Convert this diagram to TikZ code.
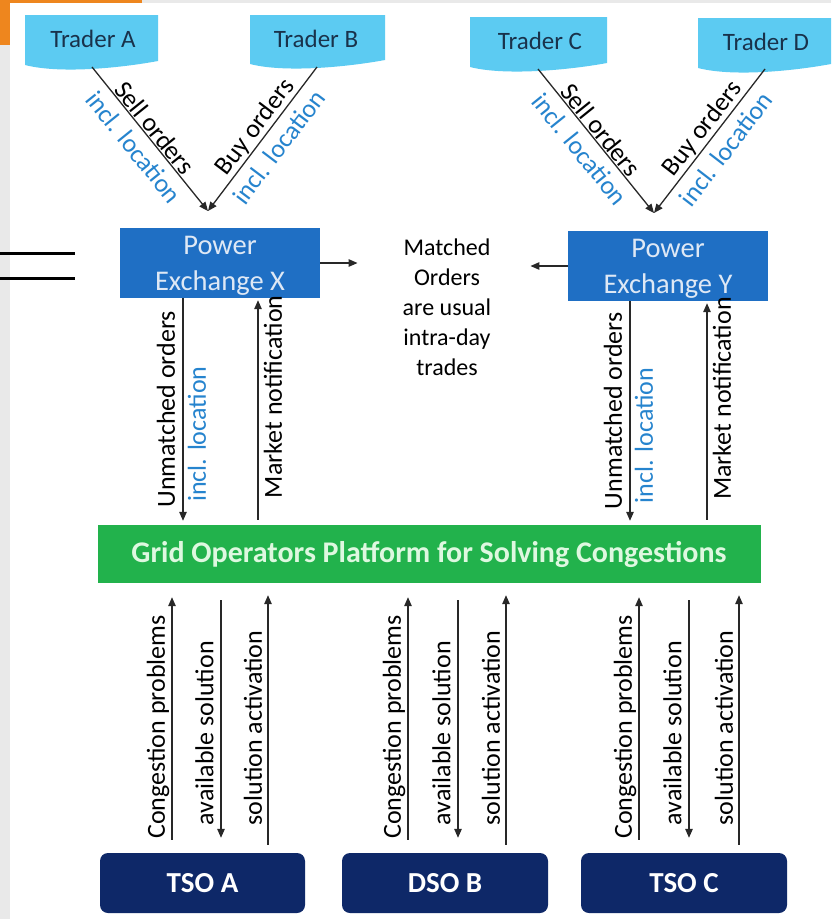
\documentclass[tikz,border=0pt]{standalone}
\usepackage{fontspec}
\setmainfont{Carlito}
\usetikzlibrary{arrows.meta}
\definecolor{framegray}{RGB}{233,233,233}
\definecolor{frameorange}{RGB}{238,134,30}
\definecolor{tradercyan}{RGB}{92,203,242}
\definecolor{tradertext}{RGB}{25,50,75}
\definecolor{exblue}{RGB}{31,111,196}
\definecolor{extext}{RGB}{222,232,245}
\definecolor{gridgreen}{RGB}{34,178,76}
\definecolor{gridtext}{RGB}{222,248,224}
\definecolor{sonavy}{RGB}{14,40,104}
\definecolor{loc}{RGB}{38,132,206}
\definecolor{linegray}{RGB}{40,40,40}

% document-like trader shape: x1, top, x2, bottom reference
\newcommand{\traderdoc}[4]{%
  \fill[doc] (#1,#2) -- (#3,#2) -- (#3,{#4-6})
    .. controls ({#3-38},{#4+1}) and ({#1+35},{#4+7}) .. (#1,{#4-2}) -- cycle;}

% three message flows between an operator box and the platform
\newcommand{\sogroup}[4]{%
  \draw[flow,shorten <=13pt,shorten >=14pt] ([xshift=#2]#1.north) --
    node[pos=0.467,lab,xshift=-14pt,rotate=90]{Congestion problems}
    ([xshift=#2]#1.north |- gop.south);
  \draw[flow,shorten <=17pt,shorten >=15pt] ([xshift=#3]#1.north |- gop.south) --
    node[pos=0.556,lab,xshift=-16.5pt,rotate=90]{available solution}
    ([xshift=#3]#1.north);
  \draw[flow,shorten <=8pt,shorten >=12pt] ([xshift=#4]#1.north) --
    node[pos=0.463,lab,xshift=-15pt,rotate=90]{solution activation}
    ([xshift=#4]#1.north |- gop.south);}

\begin{document}
\begin{tikzpicture}[x=1pt,y=-1pt,
  >={Triangle[length=9pt,width=7.5pt]},
  flow/.style={draw=linegray,line width=1.3pt,->},
  doc/.style={fill=tradercyan},
  tradertxt/.style={text=tradertext,font=\fontsize{25}{29}\selectfont,inner sep=0pt},
  exbox/.style={fill=exblue,minimum width=200pt,minimum height=70pt,inner sep=0pt},
  extxt/.style={text=extext,inner sep=0pt,align=center,font=\fontsize{28.5}{36}\selectfont},
  gridbox/.style={fill=gridgreen,text=gridtext,minimum width=663pt,minimum height=58pt,
    inner sep=0pt,font=\bfseries\fontsize{30}{34}\selectfont},
  sobox/.style={fill=sonavy,text=white,rounded corners=8pt,minimum width=206pt,
    minimum height=60pt,inner sep=0pt,font=\bfseries\fontsize{29}{32}\selectfont},
  lab/.style={text=black,font=\fontsize{26}{30}\selectfont,inner sep=0pt},
  loclab/.style={text=loc,font=\fontsize{26}{30}\selectfont,inner sep=0pt},
  note/.style={text=black,align=center,font=\fontsize{24}{30}\selectfont,inner sep=0pt}
]
\useasboundingbox (0,0) rectangle (831,919);
\fill[white] (0,0) rectangle (831,919);

% slide frame
\fill[framegray] (0,0) rectangle (831,3);
\fill[framegray] (0,0) rectangle (10,919);
\fill[frameorange] (0,0) rectangle (142,3);
\fill[frameorange] (0,0) rectangle (10,45);
\draw[line width=3pt] (0,253) -- (75,253);
\draw[line width=3pt] (0,278) -- (75,278);

% traders
\traderdoc{25}{15}{158}{67}
\traderdoc{250}{15}{385}{66}
\traderdoc{470}{17}{607}{69}
\traderdoc{698}{18}{831}{70}
\node[tradertxt] (ta) at (93,39) {Trader A};
\node[tradertxt] (tb) at (316,39) {Trader B};
\node[tradertxt] (tc) at (540,41) {Trader C};
\node[tradertxt] (td) at (766,42) {Trader D};
\coordinate (ta-out) at (92,67);
\coordinate (tb-out) at (317,67);
\coordinate (tc-out) at (538,69);
\coordinate (td-out) at (765,69);

% exchanges
\node[exbox] (pex) at (220,263) {};
\node[extxt] (pex-t) at ([yshift=-3pt]pex.center) {Power\\Exchange X};
\node[exbox] (pey) at (668,266) {};
\node[extxt] (pey-t) at ([yshift=-3pt]pey.center) {Power\\Exchange Y};
\coordinate (inX) at (208,211);
\coordinate (inY) at (654,213);

\draw[flow] (ta-out) --
  node[sloped,above=1pt,pos=0.47,lab]{Sell orders}
  node[sloped,below=8pt,pos=0.48,loclab]{incl. location} (inX);
\draw[flow] (tb-out) --
  node[sloped,above=1pt,pos=0.47,lab]{Buy orders}
  node[sloped,below=8pt,pos=0.48,loclab]{incl. location} (inX);
\draw[flow] (tc-out) --
  node[sloped,above=1pt,pos=0.47,lab]{Sell orders}
  node[sloped,below=8pt,pos=0.48,loclab]{incl. location} (inY);
\draw[flow] (td-out) --
  node[sloped,above=1pt,pos=0.47,lab]{Buy orders}
  node[sloped,below=8pt,pos=0.48,loclab]{incl. location} (inY);

% matched orders
\node[note] (matched) at (447,307) {Matched\\Orders\\are usual\\intra-day\\trades};
\draw[flow,shorten >=45pt] (pex.east) -- (pex.east -| matched.west);
\draw[flow,shorten >=39pt] (pey.west) -- (pey.west -| matched.east);

% platform
\node[gridbox] (gop) at (429,554) {Grid Operators Platform for Solving Congestions};

% exchange <-> platform
\draw[flow,shorten >=4pt] ([xshift=-37pt]pex.south) --
  node[pos=0.49,lab,xshift=-17pt,rotate=90]{Unmatched orders}
  node[pos=0.6,loclab,xshift=14pt,rotate=90]{incl. location}
  ([xshift=-37pt]pex.south |- gop.north);
\draw[flow,shorten <=5pt,shorten >=2pt] ([xshift=38pt]pex.south |- gop.north) --
  node[pos=0.565,lab,xshift=15pt,rotate=90]{Market notification}
  ([xshift=38pt]pex.south);
\draw[flow,shorten >=4pt] ([xshift=-38pt]pey.south) --
  node[pos=0.49,lab,xshift=-17pt,rotate=90]{Unmatched orders}
  node[pos=0.6,loclab,xshift=14pt,rotate=90]{incl. location}
  ([xshift=-38pt]pey.south |- gop.north);
\draw[flow,shorten <=5pt,shorten >=2pt] ([xshift=39pt]pey.south |- gop.north) --
  node[pos=0.565,lab,xshift=15pt,rotate=90]{Market notification}
  ([xshift=39pt]pey.south);

% grid operators
\node[sobox,minimum width=205pt] (tsoa) at (202.5,883) {TSO A};
\node[sobox] (dsob) at (445,883) {DSO B};
\node[sobox] (tsoc) at (684,883) {TSO C};
\sogroup{tsoa}{-30.5pt}{18.5pt}{65.5pt}
\sogroup{dsob}{-37pt}{13pt}{61pt}
\sogroup{tsoc}{-45pt}{5pt}{55pt}
\end{tikzpicture}
\end{document}
